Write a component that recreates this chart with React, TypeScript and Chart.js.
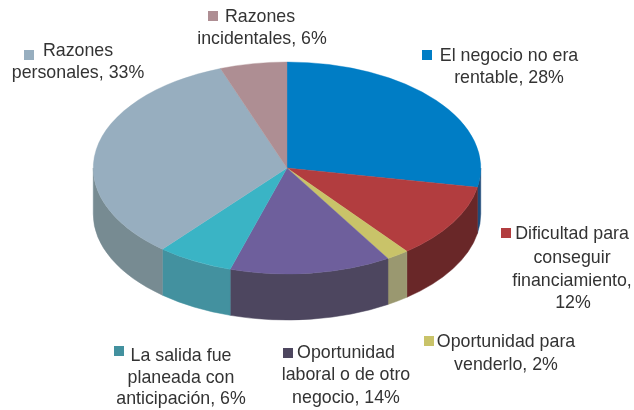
import React, { useEffect, useRef } from "react";
import { Chart, registerables } from "chart.js";

Chart.register(...registerables);

const categories = [
  "El negocio no era rentable",
  "Dificultad para conseguir financiamiento",
  "Oportunidad para venderlo",
  "Oportunidad laboral o de otro negocio",
  "La salida fue planeada con anticipación",
  "Razones personales",
  "Razones incidentales",
];
// Labels are rounded (they sum to 101); the slices as drawn read slightly finer.
const shares = [28, 11.5, 1.9, 13.5, 6.4, 33.4, 5.6];
const topColors = ["#007DC5", "#B23D3F", "#C9C369", "#6E5F9C", "#3AB4C5", "#97AEBF", "#AE8E93"];
const sideColors = ["#1E4A78", "#692728", "#9A9870", "#4D465F", "#43919F", "#778B92", "#7F686B"];
const markerColors = ["#007DC5", "#B23D3F", "#C9C369", "#4D465F", "#43919F", "#97AEBF", "#AE8E93"];
const labelLines = [
  ["El negocio no era", "rentable, 28%"],
  ["Dificultad para", "conseguir", "financiamiento,", "12%"],
  ["Oportunidad para", "venderlo, 2%"],
  ["Oportunidad", "laboral o de otro", "negocio, 14%"],
  ["La salida fue", "planeada con", "anticipación, 6%"],
  ["Razones", "personales, 33%"],
  ["Razones", "incidentales, 6%"],
];

// Layout of the labels: marker left/top, then centre x and centre y per line.
const markerPos = [
  [422, 50], [501, 228], [424, 336], [283, 348], [114, 346], [24, 50], [208, 11],
];
const lineCx = [
  [509, 509], [572, 572, 572, 573], [506, 506], [346, 346, 346], [181, 181, 181], [78, 78], [260, 262],
];
const lineCy = [
  [56, 78], [234, 258, 281, 303], [342, 365], [353, 375, 398], [356, 378, 399], [51, 73], [17, 39],
];

const CX = 287;
const CY = 168;
const RY = 106;
const DEPTH = 46;

const tilt = (ctx: CanvasRenderingContext2D, arcX: number, arcY: number, r: number) => {
  const k = RY / r;
  ctx.setTransform(1, 0, 0, k, CX - arcX, CY - arcY * k);
};

const pie3d = {
  id: "pie3d",
  beforeDatasetsDraw(chart: any) {
    const ctx: CanvasRenderingContext2D = chart.ctx;
    const arcs = chart.getDatasetMeta(0).data;
    const { outerRadius: R } = arcs[0].getProps(["outerRadius"], true);
    ctx.save();
    arcs.forEach((arc: any, i: number) => {
      const { startAngle, endAngle } = arc.getProps(["startAngle", "endAngle"], true);
      [0, Math.PI * 2].forEach((shift) => {
        const a0 = Math.max(startAngle - shift, 0);
        const a1 = Math.min(endAngle - shift, Math.PI);
        if (a1 <= a0) return;
        ctx.beginPath();
        ctx.ellipse(CX, CY, R, RY, 0, a0, a1);
        ctx.ellipse(CX, CY + DEPTH, R, RY, 0, a1, a0, true);
        ctx.closePath();
        ctx.fillStyle = sideColors[i];
        ctx.strokeStyle = sideColors[i];
        ctx.lineWidth = 0.5;
        ctx.fill();
        ctx.stroke();
      });
    });
    ctx.restore();
    const first = arcs[0].getProps(["x", "y"], true);
    ctx.save();
    tilt(ctx, first.x, first.y, R);
  },
  afterDatasetsDraw(chart: any) {
    const ctx: CanvasRenderingContext2D = chart.ctx;
    ctx.restore();
    ctx.save();
    ctx.font = '17.8px "Liberation Sans", Arial, sans-serif';
    ctx.textAlign = "center";
    ctx.textBaseline = "middle";
    labelLines.forEach((lines, i) => {
      ctx.fillStyle = markerColors[i];
      ctx.fillRect(markerPos[i][0], markerPos[i][1], 10, 10);
      ctx.fillStyle = "#333333";
      lines.forEach((line, j) => ctx.fillText(line, lineCx[i][j], lineCy[i][j]));
    });
    ctx.restore();
  },
};

export default function App() {
  const ref = useRef<HTMLCanvasElement>(null);
  useEffect(() => {
    if (!ref.current) return;
    const chart = new Chart(ref.current, {
      type: "pie",
      data: {
        labels: categories,
        datasets: [
          {
            data: shares,
            backgroundColor: topColors,
            borderColor: topColors,
            borderWidth: 0.5,
          },
        ],
      },
      options: {
        responsive: false,
        animation: false,
        layout: { padding: { left: 93, right: 153, top: 11, bottom: 11 } },
        plugins: { legend: { display: false }, tooltip: { enabled: false } },
      },
      plugins: [pie3d],
    });
    return () => chart.destroy();
  }, []);
  return (
    <div style={{ position: "fixed", left: 0, top: 0, width: 634, height: 410, background: "#fff" }}>
      <canvas ref={ref} width={634} height={410} style={{ display: "block", filter: "blur(0.4px)" }} />
    </div>
  );
}
